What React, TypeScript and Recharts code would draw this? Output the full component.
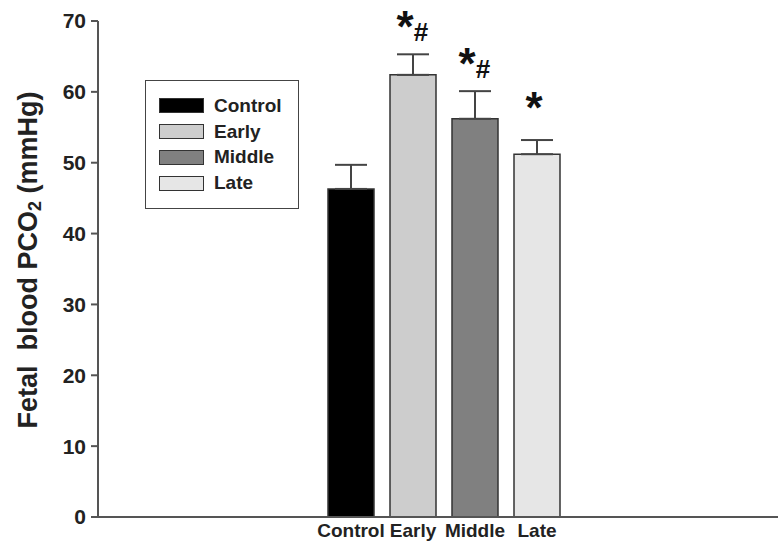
import React from 'react';
import { BarChart, Bar, XAxis, YAxis, Cell, ErrorBar, LabelList, Label } from 'recharts';

const groups = ['Control', 'Early', 'Middle', 'Late'];
const pco2 = [46.3, 62.4, 56.2, 51.2];
const sem = [3.4, 2.9, 3.9, 2.0];
const marks = ['', '*#', '*#', '*'];
const yTicks = [0, 10, 20, 30, 40, 50, 60, 70];

const FILLS = ['#000000', '#cdcdcd', '#808080', '#e6e6e6'];
const AXIS = '#555';
const FONT = '"Liberation Sans", Arial, sans-serif';

const data = groups.map((g, i) => ({ group: g, value: pco2[i], err: [0, sem[i]], mark: marks[i] }));

function SigMark(props: any) {
  const { x, y, width, height, index } = props;
  const txt = marks[index];
  if (!txt) return null;
  const perUnit = height / pco2[index];
  const top = y - sem[index] * perUnit;
  const cx = x + width / 2;
  const hasHash = txt.includes('#');
  return (
    <g fontFamily={FONT} fontWeight="bold" fill="#111">
      <text x={hasHash ? cx - 8 : cx - 3} y={hasHash ? top - 12 : top - 17} textAnchor="middle" fontSize={44}>*</text>
      {hasHash && <text x={cx + 8} y={top - 13} textAnchor="middle" fontSize={26}>#</text>}
    </g>
  );
}

// legend is drawn as a plain box over the chart, like the original figure
function LegendBox() {
  return (
    <div style={{ position: 'absolute', left: 145, top: 80, border: '1.5px solid #444', width: 154, height: 129, boxSizing: 'border-box', padding: '12px 0 0 13px', fontFamily: FONT, fontWeight: 'bold', fontSize: 19, color: '#222', background: '#fff' }}>
      {groups.map((g, i) => (
        <div key={g} style={{ display: 'flex', alignItems: 'center', height: 25.8 }}>
          <div style={{ width: 43, height: 13, background: FILLS[i], border: '1px solid #333', marginRight: 10 }} />
          <span>{g}</span>
        </div>
      ))}
    </div>
  );
}

function YTitle() {
  const cx = 28;
  const cy = 260;
  return (
    <text x={cx} y={cy} transform={`rotate(-90 ${cx} ${cy})`} textAnchor="middle" dominantBaseline="central"
      fontFamily={FONT} fontWeight="bold" fontSize={27} fill="#222" xmlSpace="preserve">
      Fetal  blood PCO<tspan fontSize={18} dy={7}>2</tspan><tspan dy={-7}> (mmHg)</tspan>
    </text>
  );
}

export default function App() {
  return (
    <div style={{ position: 'absolute', left: 0, top: 0, width: 778, height: 547, background: '#fff' }}>
      <BarChart width={778} height={547} data={data} margin={{ top: 21, right: 0, left: 0, bottom: 0 }} barCategoryGap={8}>
        <XAxis dataKey="group" padding={{ left: 222, right: 210 }} tickLine={false} axisLine={{ stroke: AXIS, strokeWidth: 2 }}
          height={30} interval={0}
          tick={{ fontFamily: FONT, fontWeight: 'bold', fontSize: 19, fill: '#222' }} tickMargin={1} />
        <YAxis width={98} domain={[0, 70]} ticks={yTicks} interval={0} axisLine={{ stroke: AXIS, strokeWidth: 2 }}
          tickLine={{ stroke: AXIS, strokeWidth: 2 }} tickSize={7} tickMargin={5}
          tick={{ fontFamily: FONT, fontWeight: 'bold', fontSize: 21, fill: '#222' }}>
          <Label content={<YTitle />} />
        </YAxis>
        <Bar dataKey="value" isAnimationActive={false} stroke="#333" strokeWidth={1.5}>
          {data.map((d, i) => <Cell key={d.group} fill={FILLS[i]} />)}
          <ErrorBar dataKey="err" width={16} stroke="#444" strokeWidth={2} direction="y" />
          <LabelList dataKey="mark" content={<SigMark />} />
        </Bar>
      </BarChart>
      <LegendBox />
    </div>
  );
}
